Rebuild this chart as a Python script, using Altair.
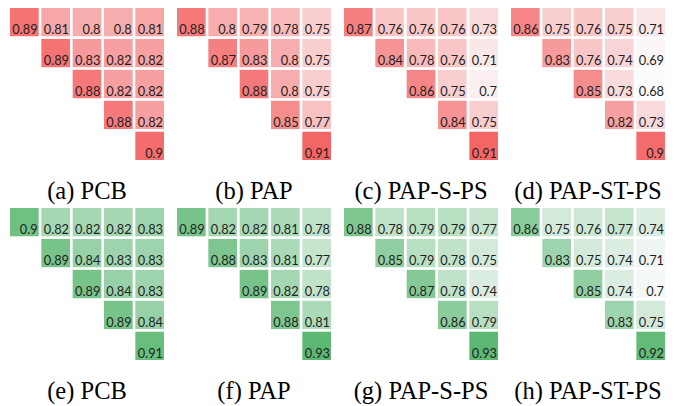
import altair as alt
import pandas as pd

titles_top = ["(a) PCB", "(b) PAP", "(c) PAP-S-PS", "(d) PAP-ST-PS"]
titles_bottom = ["(e) PCB", "(f) PAP", "(g) PAP-S-PS", "(h) PAP-ST-PS"]

pcb_red = [[0.89, 0.81, 0.80, 0.80, 0.81], [0.89, 0.83, 0.82, 0.82], [0.88, 0.82, 0.82], [0.88, 0.82], [0.90]]
pap_red = [[0.88, 0.80, 0.79, 0.78, 0.75], [0.87, 0.83, 0.80, 0.75], [0.88, 0.80, 0.75], [0.85, 0.77], [0.91]]
paps_red = [[0.87, 0.76, 0.76, 0.76, 0.73], [0.84, 0.78, 0.76, 0.71], [0.86, 0.75, 0.70], [0.84, 0.75], [0.91]]
papst_red = [[0.86, 0.75, 0.76, 0.75, 0.71], [0.83, 0.76, 0.74, 0.69], [0.85, 0.73, 0.68], [0.82, 0.73], [0.90]]

pcb_green = [[0.90, 0.82, 0.82, 0.82, 0.83], [0.89, 0.84, 0.83, 0.83], [0.89, 0.84, 0.83], [0.89, 0.84], [0.91]]
pap_green = [[0.89, 0.82, 0.82, 0.81, 0.78], [0.88, 0.83, 0.81, 0.77], [0.89, 0.82, 0.78], [0.88, 0.81], [0.93]]
paps_green = [[0.88, 0.78, 0.79, 0.79, 0.77], [0.85, 0.79, 0.78, 0.75], [0.87, 0.78, 0.74], [0.86, 0.79], [0.93]]
papst_green = [[0.86, 0.75, 0.76, 0.77, 0.74], [0.83, 0.75, 0.74, 0.71], [0.85, 0.74, 0.70], [0.83, 0.75], [0.92]]

W, H = 154, 152
SERIF = "Liberation Serif, 'Times New Roman', Times, serif"


def to_df(tri):
    rows = []
    for i, r in enumerate(tri):
        for k, v in enumerate(r):
            j = i + k
            rows.append({"row": i, "col": j, "value": v, "label": f"{v:g}"})
    return pd.DataFrame(rows)


def panel(tri, title, domain, color_range):
    df = to_df(tri)
    xs = alt.Scale(domain=[0, 1, 2, 3, 4], paddingInner=0.085, paddingOuter=0)
    ys = alt.Scale(domain=[0, 1, 2, 3, 4], paddingInner=0.085, paddingOuter=0)
    base = alt.Chart(df)
    rect = base.mark_rect().encode(
        x=alt.X("col:O", scale=xs, axis=None),
        y=alt.Y("row:O", scale=ys, axis=None),
        color=alt.Color(
            "value:Q",
            scale=alt.Scale(domain=domain, range=color_range, interpolate="rgb"),
            legend=None,
        ),
    )
    text = base.mark_text(
        align="right", baseline="bottom", dx=-1, dy=1, font="Lato", fontSize=12.8, color="#1f1f1f"
    ).encode(
        x=alt.X("col:O", scale=xs, axis=None, bandPosition=1),
        y=alt.Y("row:O", scale=ys, axis=None, bandPosition=1),
        text="label:N",
    )
    return alt.layer(rect, text).properties(
        width=W,
        height=H,
        title=alt.TitleParams(
            text=title,
            orient="bottom",
            anchor="middle",
            font=SERIF,
            fontSize=24.5,
            fontWeight="normal",
            color="black",
            baseline="top",
            offset=19,
        ),
    )


red_dom = [0.68, 0.91]
red_rng = ["#fbfbfd", "#f46666"]
green_dom = [0.69, 0.93]
green_rng = ["#fbfbfd", "#5cb873"]

top = alt.hconcat(
    *[panel(t, s, red_dom, red_rng) for t, s in zip([pcb_red, pap_red, paps_red, papst_red], titles_top)],
    spacing=13,
)
bottom = alt.hconcat(
    *[panel(t, s, green_dom, green_rng) for t, s in zip([pcb_green, pap_green, paps_green, papst_green], titles_bottom)],
    spacing=13,
)

chart = (
    alt.vconcat(top, bottom, spacing=4)
    .resolve_scale(color="independent")
    .properties(padding={"left": 2, "top": 0, "right": 0, "bottom": 0})
    .configure_view(stroke=None)
    .configure_title(font=SERIF, fontWeight="normal")
)

chart.save("out.html", embed_options={"renderer": "svg", "actions": False})
